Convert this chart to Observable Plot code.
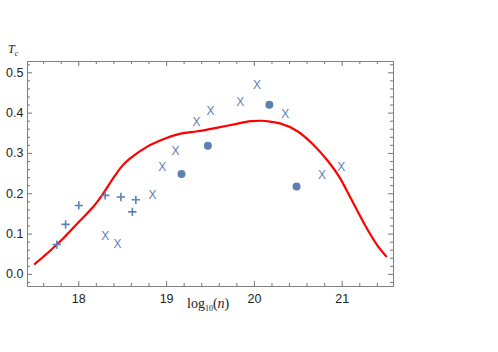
<!DOCTYPE html>
<html>
<head>
<meta charset="utf-8">
<script src="https://cdn.jsdelivr.net/npm/d3@7"></script>
<script src="https://cdn.jsdelivr.net/npm/@observablehq/plot@0.6"></script>
<style>
  body { margin: 0; background: #fff; }
  #chart svg { display: block; }
</style>
</head>
<body>
<div id="chart"></div>
<script>
// "+" series
const plusX = [17.75, 17.85, 18.00, 18.30, 18.48, 18.61, 18.65];
const plusY = [0.074, 0.124, 0.171, 0.196, 0.192, 0.155, 0.185];
// "X" series
const crossX = [18.30, 18.44, 18.84, 18.95, 19.10, 19.34, 19.50, 19.84, 20.03, 20.35, 20.77, 20.99];
const crossY = [0.095, 0.075, 0.196, 0.265, 0.306, 0.378, 0.405, 0.427, 0.469, 0.397, 0.245, 0.266];
// filled circles series
const dotX = [19.17, 19.47, 20.17, 20.48];
const dotY = [0.249, 0.319, 0.421, 0.218];
// red curve
const curveX = [17.50, 17.68, 17.83, 18.00, 18.10, 18.21, 18.30, 18.40, 18.49, 18.63, 18.78, 18.97, 19.16, 19.35, 19.58, 19.77, 19.96, 20.08, 20.20, 20.30, 20.49, 20.66, 20.83, 20.98, 21.09, 21.25, 21.40, 21.50];
const curveY = [0.026, 0.060, 0.091, 0.130, 0.152, 0.180, 0.208, 0.241, 0.268, 0.295, 0.317, 0.336, 0.349, 0.355, 0.364, 0.372, 0.380, 0.381, 0.378, 0.374, 0.355, 0.324, 0.283, 0.237, 0.192, 0.126, 0.072, 0.045];
// ticks
const xTicks = [18, 19, 20, 21];
const xMinor = [17.6, 17.8, 18.2, 18.4, 18.6, 18.8, 19.2, 19.4, 19.6, 19.8, 20.2, 20.4, 20.6, 20.8, 21.2, 21.4];
const yTicks = [0.0, 0.1, 0.2, 0.3, 0.4, 0.5];
const yMinor = [-0.02, 0.02, 0.04, 0.06, 0.08, 0.12, 0.14, 0.16, 0.18, 0.22, 0.24, 0.26, 0.28, 0.32, 0.34, 0.36, 0.38, 0.42, 0.44, 0.46, 0.48, 0.52];

const blue = "#5E81B5";
const plus = plusX.map((x, i) => ({x, y: plusY[i]}));
const cross = crossX.map((x, i) => ({x, y: crossY[i]}));
const dots = dotX.map((x, i) => ({x, y: dotY[i]}));
const curve = curveX.map((x, i) => ({x, y: curveY[i]}));

const W = 498, H = 352, mL = 27, mR = 105, mT = 61, mB = 66;
const fw = W - mL - mR, fh = H - mT - mB;
const xDom = [17.416, 21.584], yDom = [-0.03, 0.528];
const gray = "#808080";
// tick lengths (px) expressed in data units for the inward frame ticks
const dxPx = (xDom[1] - xDom[0]) / fw, dyPx = (yDom[1] - yDom[0]) / fh;
const xTickMarks = (vals, len) => [
  Plot.ruleX(vals, {x: d => d, y1: yDom[0], y2: yDom[0] + len * dyPx, stroke: gray, strokeWidth: 1.1}),
  Plot.ruleX(vals, {x: d => d, y1: yDom[1], y2: yDom[1] - len * dyPx, stroke: gray, strokeWidth: 1.1})
];
const yTickMarks = (vals, len) => [
  Plot.ruleY(vals, {y: d => d, x1: xDom[0], x2: xDom[0] + len * dxPx, stroke: gray, strokeWidth: 1.1}),
  Plot.ruleY(vals, {y: d => d, x1: xDom[1], x2: xDom[1] - len * dxPx, stroke: gray, strokeWidth: 1.1})
];

const chart = Plot.plot({
  width: W,
  height: H,
  marginLeft: mL,
  marginRight: mR,
  marginTop: mT,
  marginBottom: mB,
  style: {fontFamily: "'Liberation Sans', Arial, sans-serif", fontSize: "12.5px", color: "#222", background: "#fff"},
  x: {domain: xDom, label: null},
  y: {domain: yDom, label: null},
  marks: [
    Plot.axisX({anchor: "bottom", ticks: xTicks, tickSize: 0, tickPadding: 8, tickFormat: d => d3.format("d")(d), fill: "#222"}),
    Plot.axisY({anchor: "left", ticks: yTicks, tickSize: 0, tickPadding: 4, tickFormat: d => d3.format(".1f")(d), fill: "#222"}),
    ...xTickMarks(xTicks, 5), ...xTickMarks(xMinor, 3),
    ...yTickMarks(yTicks, 5), ...yTickMarks(yMinor, 3),
    Plot.frame({stroke: gray}),
    Plot.line(curve, {x: "x", y: "y", stroke: "#ff0000", strokeWidth: 2.2, curve: "monotone-x"}),
    Plot.dot(plus, {x: "x", y: "y", symbol: "plus", r: 2.8, stroke: blue, strokeWidth: 1.6}),
    Plot.text(cross, {x: "x", y: "y", text: () => "X", fill: blue, fontSize: 12, fontFamily: "'Liberation Sans', Arial, sans-serif"}),
    Plot.dot(dots, {x: "x", y: "y", r: 4, fill: blue, stroke: "none"})
  ]
});

const svg = d3.select(chart);
// y label T_c
const tl = svg.append("text").attr("x", 8).attr("y", 53).attr("text-anchor", "start")
  .attr("font-family", "'Liberation Serif', 'Times New Roman', serif").attr("font-size", 12).attr("fill", "#222");
tl.append("tspan").attr("font-style", "italic").text("T");
tl.append("tspan").attr("font-style", "italic").attr("font-size", 8).attr("dy", 3).text("c");
// x label log10(n)
const xl = svg.append("text").attr("x", 187).attr("y", 308).attr("text-anchor", "start")
  .attr("font-family", "'Liberation Serif', 'Times New Roman', serif").attr("font-size", 14).attr("fill", "#222");
xl.append("tspan").text("log");
xl.append("tspan").attr("font-size", 8).attr("dy", 3).text("10");
xl.append("tspan").attr("dy", -3).text("(");
xl.append("tspan").attr("font-style", "italic").text("n");
xl.append("tspan").text(")");

document.getElementById("chart").appendChild(chart);
</script>
</body>
</html>
